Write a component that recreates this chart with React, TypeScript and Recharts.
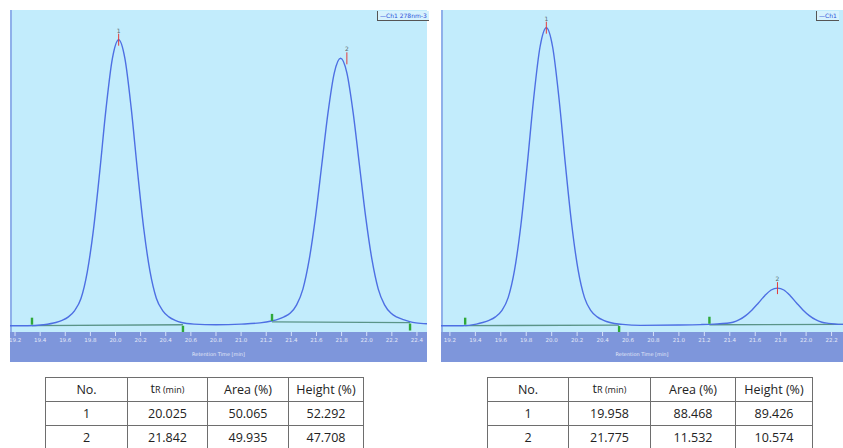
import React from 'react';
import { ComposedChart, Line, XAxis, YAxis } from 'recharts';

// ---------- data ----------
const majorTicksLeft = [19.2, 19.4, 19.6, 19.8, 20.0, 20.2, 20.4, 20.6, 20.8, 21.0, 21.2, 21.4, 21.6, 21.8, 22.0, 22.2, 22.4];
const majorTicksRight = [19.2, 19.4, 19.6, 19.8, 20.0, 20.2, 20.4, 20.6, 20.8, 21.0, 21.2, 21.4, 21.6, 21.8, 22.0, 22.2];

const leftTimes = [19.16, 19.3, 19.425, 19.525, 19.575, 19.625, 19.675, 19.725, 19.775, 19.825, 19.875, 19.925, 19.975, 20.025, 20.075, 20.125, 20.175, 20.225, 20.275, 20.325, 20.375, 20.425, 20.475, 20.525, 20.625, 20.8, 21.0, 21.15, 21.242, 21.292, 21.342, 21.392, 21.442, 21.492, 21.542, 21.592, 21.642, 21.692, 21.742, 21.792, 21.842, 21.892, 21.942, 21.992, 22.042, 22.092, 22.142, 22.192, 22.242, 22.292, 22.342, 22.392, 22.48];
const leftValues = [0.0, 0.0, 0.3, 1.0, 1.7, 2.8, 4.8, 8.6, 17.0, 30.6, 49.0, 68.9, 84.6, 90.6, 84.6, 68.9, 49.0, 30.7, 17.1, 8.7, 4.8, 2.8, 1.7, 1.0, 0.5, 0.3, 0.5, 0.9, 1.5, 2.0, 2.8, 4.0, 6.6, 11.6, 20.9, 34.4, 50.9, 67.5, 80.1, 84.7, 80.1, 67.5, 50.9, 34.4, 20.9, 11.6, 6.6, 4.0, 2.7, 1.9, 1.3, 0.9, 0.6];

const rightTimes = [19.13, 19.3, 19.408, 19.458, 19.508, 19.558, 19.608, 19.658, 19.708, 19.758, 19.808, 19.858, 19.908, 19.958, 20.008, 20.058, 20.108, 20.158, 20.208, 20.258, 20.308, 20.358, 20.408, 20.458, 20.558, 20.7, 21.0, 21.175, 21.275, 21.375, 21.425, 21.475, 21.525, 21.575, 21.625, 21.675, 21.725, 21.775, 21.825, 21.875, 21.925, 21.975, 22.025, 22.075, 22.125, 22.175, 22.29];
const rightValues = [0.0, 0.0, 0.5, 1.0, 1.7, 2.8, 4.8, 8.9, 17.6, 31.9, 51.0, 71.8, 88.2, 94.4, 88.2, 71.8, 51.0, 31.9, 17.6, 8.9, 4.8, 2.8, 1.7, 1.0, 0.4, 0.1, 0.2, 0.35, 0.5, 0.75, 1.1, 1.9, 3.2, 5.0, 7.2, 9.5, 11.3, 11.9, 11.3, 9.5, 7.2, 5.0, 3.2, 1.9, 1.1, 0.75, 0.4];

// integration baselines [t, value]
const leftBase1 = [[19.335, 0.0], [20.537, 0.3]];
const leftBase2 = [[21.246, 1.2], [22.345, 1.0]];
const rightBase1 = [[19.32, 0.0], [20.53, 0.2]];
const rightBase2 = [[21.24, 0.3], [22.3, 0.4]];

// peak start / end markers [t, value, kind]
const leftMarks: [number, number, string][] = [[19.335, 0.0, 's'], [20.537, 0.3, 'e'], [21.246, 1.2, 's'], [22.345, 1.0, 'e']];
const rightMarks: [number, number, string][] = [[19.32, 0.0, 's'], [20.53, 0.2, 'e'], [21.24, 0.3, 's']];

// apex markers [t, value, label]
const leftApex: [number, number, string][] = [[20.025, 90.6, '1'], [21.842, 84.7, '2']];
const rightApex: [number, number, string][] = [[19.958, 94.4, '1'], [21.775, 11.9, '2']];

const tableHeader = ['No.', 'tR', 'Area (%)', 'Height (%)'];
const leftTableRows = [['1', '20.025', '50.065', '52.292'], ['2', '21.842', '49.935', '47.708']];
const rightTableRows = [['1', '19.958', '88.468', '89.426'], ['2', '21.775', '11.532', '10.574']];

const legendTextLeft = '—Ch1 278nm-3';
const legendTextRight = '—Ch1';

// ---------- styles ----------
const BG = '#c2ecfc';
const BAND = '#7e96db';
const CURVE = '#4d6fe3';
const BASE = '#5a9488';
const GREEN = '#2fa83a';
const RED = '#e23b3b';

function minorTicks(majors: number[], lo: number, hi: number) {
  const out: number[] = [];
  const start = majors[0] - 0.2;
  for (let i = 0; i < 200; i++) {
    const v = Math.round((start + i * 0.04) * 1000) / 1000;
    if (v > hi) break;
    if (v >= lo) out.push(v);
  }
  return out;
}

type PanelProps = {
  left: number;
  width: number;
  domain: [number, number];
  majors: number[];
  times: number[];
  values: number[];
  bases: number[][][];
  marks: [number, number, string][];
  apex: [number, number, string][];
};

const H = 352;
const BAND_H = 30;

function Panel(p: PanelProps) {
  const data = p.times.map((t, i) => ({ t, v: p.values[i] }));
  const minors = minorTicks(p.majors, p.domain[0], p.domain[1]);
  const markData = p.marks.map(([t, v, k]) => ({ t, v, k }));
  const apexData = p.apex.map(([t, v, k]) => ({ t, v, k }));
  return (
    <div
      style={{
        position: 'absolute',
        left: p.left,
        top: 10,
        width: p.width,
        height: H,
        background: `linear-gradient(to bottom, ${BG} 0px, ${BG} ${H - BAND_H}px, ${BAND} ${H - BAND_H}px, ${BAND} ${H}px)`,
        overflow: 'hidden',
      }}
    >
      <div style={{ position: 'absolute', left: 0, top: 0, width: 2, height: H - BAND_H, background: '#8fb0ea' }} />
      <ComposedChart width={p.width} height={H} margin={{ top: 0, right: 0, bottom: 0, left: 0 }} data={data}>
        <XAxis
          xAxisId="minor"
          dataKey="t"
          type="number"
          domain={p.domain}
          allowDataOverflow
          ticks={minors}
          tick={false}
          tickSize={2}
          tickLine={{ stroke: '#eef3ff', strokeWidth: 0.8 }}
          axisLine={false}
          height={0}
          interval={0}
        />
        <XAxis
          dataKey="t"
          type="number"
          domain={p.domain}
          allowDataOverflow
          ticks={p.majors}
          interval={0}
          tickFormatter={(v: number) => v.toFixed(1)}
          tick={{ fontSize: 5.5, fill: '#e4e9f8', fontFamily: 'DejaVu Sans' }}
          tickSize={4}
          tickLine={{ stroke: '#eef3ff', strokeWidth: 0.8 }}
          axisLine={false}
          height={BAND_H}
          label={{ value: 'Retention Time [min]', position: 'insideBottom', offset: 6, fontSize: 5, fill: '#e4e9f8', fontFamily: 'DejaVu Sans' }}
        />
        <YAxis hide domain={[-2, 100]} allowDataOverflow />
        {p.bases.map((seg, i) => (
          <Line
            key={`b${i}`}
            data={seg.map(([t, v]) => ({ t, v }))}
            dataKey="v"
            type="linear"
            stroke={BASE}
            strokeWidth={1.3}
            dot={false}
            isAnimationActive={false}
          />
        ))}
        <Line dataKey="v" type="monotone" stroke={CURVE} strokeWidth={1.4} dot={false} isAnimationActive={false} />
        <Line
          data={markData}
          dataKey="v"
          stroke="none"
          isAnimationActive={false}
          dot={(d: any) => {
            const up = d.payload.k === 's';
            return (
              <rect
                key={`m${d.index}`}
                x={d.cx - 1.2}
                y={up ? d.cy - 8 : d.cy + 1}
                width={2.4}
                height={7}
                fill={GREEN}
              />
            );
          }}
        />
        <Line
          data={apexData}
          dataKey="v"
          stroke="none"
          isAnimationActive={false}
          dot={(d: any) => (
            <g key={`a${d.index}`}>
              <line x1={d.cx} x2={d.cx} y1={d.cy - 6} y2={d.cy + 6} stroke={RED} strokeWidth={1} />
              <text x={d.cx} y={d.cy - 7} fontSize={6} textAnchor="middle" fill="#5a6a70" fontFamily="DejaVu Sans">
                {d.payload.k}
              </text>
            </g>
          )}
        />
      </ComposedChart>
    </div>
  );
}

function Legend({ left, text }: { left: number; text: string }) {
  return (
    <div
      style={{
        position: 'absolute',
        left,
        top: 11,
        height: 9,
        padding: '0 2px',
        background: '#d6f2fd',
        borderLeft: '1px solid #555',
        borderBottom: '1.5px solid #555',
        color: '#2f4fd8',
        fontSize: 6,
        lineHeight: '9px',
        fontFamily: 'DejaVu Sans',
        whiteSpace: 'nowrap',
        overflow: 'hidden',
      }}
    >
      {text}
    </div>
  );
}

function Table({ left, widths, rows }: { left: number; widths: number[]; rows: string[][] }) {
  const cell: React.CSSProperties = {
    border: '1.5px solid #6e6e6e',
    textAlign: 'center',
    padding: 0,
    color: '#222',
    fontFamily: '"Open Sans", Lato, sans-serif',
    fontSize: 12.5,
    lineHeight: '16px',
  };
  return (
    <table
      style={{
        position: 'absolute',
        left,
        top: 377,
        borderCollapse: 'collapse',
        tableLayout: 'fixed',
        width: widths.reduce((a, b) => a + b, 0),
      }}
    >
      <colgroup>
        {widths.map((w, i) => (
          <col key={i} style={{ width: w }} />
        ))}
      </colgroup>
      <tbody>
        <tr style={{ height: 24 }}>
          {tableHeader.map((h, i) => (
            <td key={i} style={cell}>
              {h === 'tR' ? (
                <span>
                  t<span style={{ fontSize: 9 }}>R (min)</span>
                </span>
              ) : (
                h
              )}
            </td>
          ))}
        </tr>
        {rows.map((r, ri) => (
          <tr key={ri} style={{ height: 24 }}>
            {r.map((c, ci) => (
              <td key={ci} style={cell}>
                {c}
              </td>
            ))}
          </tr>
        ))}
      </tbody>
    </table>
  );
}

export default function App() {
  return (
    <div style={{ position: 'fixed', left: 0, top: 0, width: 843, height: 448, overflow: 'hidden', background: '#fff' }}>
      <Panel
        left={10}
        width={417}
        domain={[19.16, 22.48]}
        majors={majorTicksLeft}
        times={leftTimes}
        values={leftValues}
        bases={[leftBase1, leftBase2]}
        marks={leftMarks}
        apex={leftApex}
      />
      <Legend left={377} text={legendTextLeft} />
      <Panel
        left={441}
        width={402}
        domain={[19.13, 22.29]}
        majors={majorTicksRight}
        times={rightTimes}
        values={rightValues}
        bases={[rightBase1, rightBase2]}
        marks={rightMarks}
        apex={rightApex}
      />
      <Legend left={816} text={legendTextRight} />
      <Table left={45} widths={[82, 80, 81, 75]} rows={leftTableRows} />
      <Table left={487} widths={[81, 82, 85, 77]} rows={rightTableRows} />
    </div>
  );
}
